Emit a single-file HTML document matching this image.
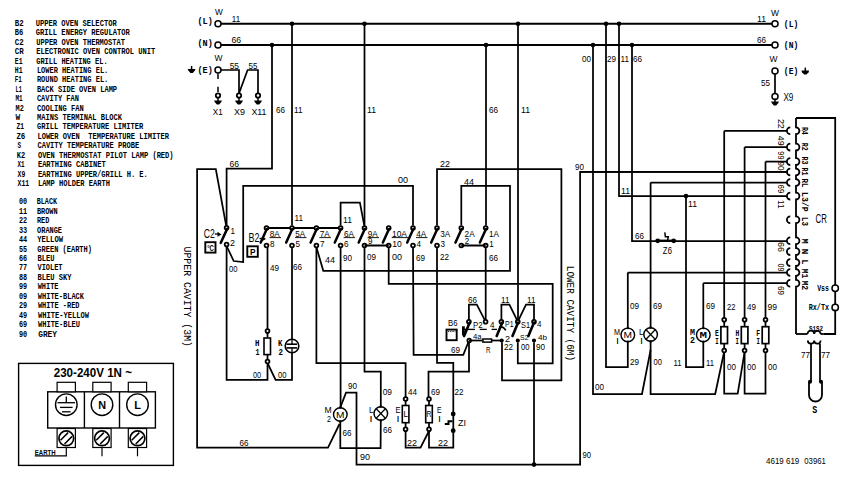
<!DOCTYPE html>
<html><head><meta charset="utf-8"><style>
html,body{margin:0;padding:0;background:#fff;}
svg{display:block;}
</style></head><body>
<svg width="855" height="504" viewBox="0 0 855 504">
<rect width="855" height="504" fill="#fff"/>
<text style="white-space:pre" x="14.8" y="25.85" font-family="Liberation Mono" font-size="9.85" font-weight="bold" textLength="9" lengthAdjust="spacingAndGlyphs">B2</text>
<text style="white-space:pre" x="35.7" y="25.85" font-family="Liberation Mono" font-size="9.85" font-weight="bold" textLength="81" lengthAdjust="spacingAndGlyphs">UPPER OVEN SELECTOR</text>
<text style="white-space:pre" x="14.8" y="35.27" font-family="Liberation Mono" font-size="9.85" font-weight="bold" textLength="8.5" lengthAdjust="spacingAndGlyphs">B6</text>
<text style="white-space:pre" x="35.7" y="35.27" font-family="Liberation Mono" font-size="9.85" font-weight="bold" textLength="94.1" lengthAdjust="spacingAndGlyphs">GRILL ENERGY REGULATOR</text>
<text style="white-space:pre" x="14.8" y="44.69" font-family="Liberation Mono" font-size="9.85" font-weight="bold" textLength="9" lengthAdjust="spacingAndGlyphs">C2</text>
<text style="white-space:pre" x="36.2" y="44.69" font-family="Liberation Mono" font-size="9.85" font-weight="bold" textLength="88.8" lengthAdjust="spacingAndGlyphs">UPPER OVEN THERMOSTAT</text>
<text style="white-space:pre" x="14.8" y="54.11" font-family="Liberation Mono" font-size="9.85" font-weight="bold" textLength="9" lengthAdjust="spacingAndGlyphs">CR</text>
<text style="white-space:pre" x="36.2" y="54.11" font-family="Liberation Mono" font-size="9.85" font-weight="bold" textLength="119" lengthAdjust="spacingAndGlyphs">ELECTRONIC OVEN CONTROL UNIT</text>
<text style="white-space:pre" x="14.8" y="63.53" font-family="Liberation Mono" font-size="9.85" font-weight="bold" textLength="7.8" lengthAdjust="spacingAndGlyphs">E1</text>
<text style="white-space:pre" x="36.2" y="63.53" font-family="Liberation Mono" font-size="9.85" font-weight="bold" textLength="71.4" lengthAdjust="spacingAndGlyphs">GRILL HEATING EL.</text>
<text style="white-space:pre" x="14.8" y="72.95" font-family="Liberation Mono" font-size="9.85" font-weight="bold" textLength="7.8" lengthAdjust="spacingAndGlyphs">H1</text>
<text style="white-space:pre" x="36.9" y="72.95" font-family="Liberation Mono" font-size="9.85" font-weight="bold" textLength="71.4" lengthAdjust="spacingAndGlyphs">LOWER HEATING EL.</text>
<text style="white-space:pre" x="14.8" y="82.37" font-family="Liberation Mono" font-size="9.85" font-weight="bold" textLength="7.1" lengthAdjust="spacingAndGlyphs">F1</text>
<text style="white-space:pre" x="36.9" y="82.37" font-family="Liberation Mono" font-size="9.85" font-weight="bold" textLength="71.4" lengthAdjust="spacingAndGlyphs">ROUND HEATING EL.</text>
<text style="white-space:pre" x="15.5" y="91.79" font-family="Liberation Mono" font-size="9.85" font-weight="bold" textLength="6.4" lengthAdjust="spacingAndGlyphs">L1</text>
<text style="white-space:pre" x="36.9" y="91.79" font-family="Liberation Mono" font-size="9.85" font-weight="bold" textLength="80.2" lengthAdjust="spacingAndGlyphs">BACK SIDE OVEN LAMP</text>
<text style="white-space:pre" x="15.5" y="101.21" font-family="Liberation Mono" font-size="9.85" font-weight="bold" textLength="7.1" lengthAdjust="spacingAndGlyphs">M1</text>
<text style="white-space:pre" x="36.9" y="101.21" font-family="Liberation Mono" font-size="9.85" font-weight="bold" textLength="42.1" lengthAdjust="spacingAndGlyphs">CAVITY FAN</text>
<text style="white-space:pre" x="15.5" y="110.63" font-family="Liberation Mono" font-size="9.85" font-weight="bold" textLength="8.3" lengthAdjust="spacingAndGlyphs">M2</text>
<text style="white-space:pre" x="36.9" y="110.63" font-family="Liberation Mono" font-size="9.85" font-weight="bold" textLength="46.9" lengthAdjust="spacingAndGlyphs">COOLING FAN</text>
<text style="white-space:pre" x="15.5" y="120.05" font-family="Liberation Mono" font-size="9.85" font-weight="bold" textLength="4.7" lengthAdjust="spacingAndGlyphs">W</text>
<text style="white-space:pre" x="36.9" y="120.05" font-family="Liberation Mono" font-size="9.85" font-weight="bold" textLength="85" lengthAdjust="spacingAndGlyphs">MAINS TERMINAL BLOCK</text>
<text style="white-space:pre" x="16.4" y="129.47" font-family="Liberation Mono" font-size="9.85" font-weight="bold" textLength="7.5" lengthAdjust="spacingAndGlyphs">Z1</text>
<text style="white-space:pre" x="37" y="129.47" font-family="Liberation Mono" font-size="9.85" font-weight="bold" textLength="106.2" lengthAdjust="spacingAndGlyphs">GRILL TEMPERATURE LIMITER</text>
<text style="white-space:pre" x="16.4" y="138.89" font-family="Liberation Mono" font-size="9.85" font-weight="bold" textLength="8.9" lengthAdjust="spacingAndGlyphs">Z6</text>
<text style="white-space:pre" x="37.4" y="138.89" font-family="Liberation Mono" font-size="9.85" font-weight="bold" textLength="131.5" lengthAdjust="spacingAndGlyphs">LOWER OVEN  TEMPERATURE LIMITER</text>
<text style="white-space:pre" x="17.5" y="148.31" font-family="Liberation Mono" font-size="9.85" font-weight="bold" textLength="3.6" lengthAdjust="spacingAndGlyphs">S</text>
<text style="white-space:pre" x="37.4" y="148.31" font-family="Liberation Mono" font-size="9.85" font-weight="bold" textLength="101.8" lengthAdjust="spacingAndGlyphs">CAVITY TEMPERATURE PROBE</text>
<text style="white-space:pre" x="16.8" y="157.73" font-family="Liberation Mono" font-size="9.85" font-weight="bold" textLength="8.5" lengthAdjust="spacingAndGlyphs">K2</text>
<text style="white-space:pre" x="37.9" y="157.73" font-family="Liberation Mono" font-size="9.85" font-weight="bold" textLength="135.7" lengthAdjust="spacingAndGlyphs">OVEN THERMOSTAT PILOT LAMP (RED)</text>
<text style="white-space:pre" x="17.5" y="167.15" font-family="Liberation Mono" font-size="9.85" font-weight="bold" textLength="7.1" lengthAdjust="spacingAndGlyphs">X1</text>
<text style="white-space:pre" x="37.9" y="167.15" font-family="Liberation Mono" font-size="9.85" font-weight="bold" textLength="67.8" lengthAdjust="spacingAndGlyphs">EARTHING CABINET</text>
<text style="white-space:pre" x="17.5" y="176.57" font-family="Liberation Mono" font-size="9.85" font-weight="bold" textLength="7.8" lengthAdjust="spacingAndGlyphs">X9</text>
<text style="white-space:pre" x="37.9" y="176.57" font-family="Liberation Mono" font-size="9.85" font-weight="bold" textLength="109.9" lengthAdjust="spacingAndGlyphs">EARTHING UPPER/GRILL H. E.</text>
<text style="white-space:pre" x="17.5" y="185.99" font-family="Liberation Mono" font-size="9.85" font-weight="bold" textLength="11.7" lengthAdjust="spacingAndGlyphs">X11</text>
<text style="white-space:pre" x="37.9" y="185.99" font-family="Liberation Mono" font-size="9.85" font-weight="bold" textLength="72.1" lengthAdjust="spacingAndGlyphs">LAMP HOLDER EARTH</text>
<text style="white-space:pre" x="19" y="204.25" font-family="Liberation Mono" font-size="9.55" font-weight="bold" textLength="8.2" lengthAdjust="spacingAndGlyphs">00</text>
<text style="white-space:pre" x="36.8" y="204.25" font-family="Liberation Mono" font-size="9.55" font-weight="bold" textLength="20.2" lengthAdjust="spacingAndGlyphs">BLACK</text>
<text style="white-space:pre" x="19" y="213.7" font-family="Liberation Mono" font-size="9.55" font-weight="bold" textLength="8.2" lengthAdjust="spacingAndGlyphs">11</text>
<text style="white-space:pre" x="36.9" y="213.7" font-family="Liberation Mono" font-size="9.55" font-weight="bold" textLength="20.7" lengthAdjust="spacingAndGlyphs">BROWN</text>
<text style="white-space:pre" x="19" y="223.15" font-family="Liberation Mono" font-size="9.55" font-weight="bold" textLength="8.2" lengthAdjust="spacingAndGlyphs">22</text>
<text style="white-space:pre" x="37" y="223.15" font-family="Liberation Mono" font-size="9.55" font-weight="bold" textLength="12.3" lengthAdjust="spacingAndGlyphs">RED</text>
<text style="white-space:pre" x="19" y="232.6" font-family="Liberation Mono" font-size="9.55" font-weight="bold" textLength="8.2" lengthAdjust="spacingAndGlyphs">33</text>
<text style="white-space:pre" x="37.1" y="232.6" font-family="Liberation Mono" font-size="9.55" font-weight="bold" textLength="24.9" lengthAdjust="spacingAndGlyphs">ORANGE</text>
<text style="white-space:pre" x="19" y="242.05" font-family="Liberation Mono" font-size="9.55" font-weight="bold" textLength="8.2" lengthAdjust="spacingAndGlyphs">44</text>
<text style="white-space:pre" x="37.2" y="242.05" font-family="Liberation Mono" font-size="9.55" font-weight="bold" textLength="25.8" lengthAdjust="spacingAndGlyphs">YELLOW</text>
<text style="white-space:pre" x="19" y="251.5" font-family="Liberation Mono" font-size="9.55" font-weight="bold" textLength="8.2" lengthAdjust="spacingAndGlyphs">55</text>
<text style="white-space:pre" x="37.3" y="251.5" font-family="Liberation Mono" font-size="9.55" font-weight="bold" textLength="54.7" lengthAdjust="spacingAndGlyphs">GREEN (EARTH)</text>
<text style="white-space:pre" x="19" y="260.95" font-family="Liberation Mono" font-size="9.55" font-weight="bold" textLength="8.2" lengthAdjust="spacingAndGlyphs">66</text>
<text style="white-space:pre" x="37.4" y="260.95" font-family="Liberation Mono" font-size="9.55" font-weight="bold" textLength="17.1" lengthAdjust="spacingAndGlyphs">BLEU</text>
<text style="white-space:pre" x="19" y="270.4" font-family="Liberation Mono" font-size="9.55" font-weight="bold" textLength="8.2" lengthAdjust="spacingAndGlyphs">77</text>
<text style="white-space:pre" x="37.5" y="270.4" font-family="Liberation Mono" font-size="9.55" font-weight="bold" textLength="25" lengthAdjust="spacingAndGlyphs">VIOLET</text>
<text style="white-space:pre" x="19" y="279.85" font-family="Liberation Mono" font-size="9.55" font-weight="bold" textLength="8.2" lengthAdjust="spacingAndGlyphs">88</text>
<text style="white-space:pre" x="37.6" y="279.85" font-family="Liberation Mono" font-size="9.55" font-weight="bold" textLength="33.9" lengthAdjust="spacingAndGlyphs">BLEU SKY</text>
<text style="white-space:pre" x="19" y="289.3" font-family="Liberation Mono" font-size="9.55" font-weight="bold" textLength="8.2" lengthAdjust="spacingAndGlyphs">99</text>
<text style="white-space:pre" x="37.7" y="289.3" font-family="Liberation Mono" font-size="9.55" font-weight="bold" textLength="20.8" lengthAdjust="spacingAndGlyphs">WHITE</text>
<text style="white-space:pre" x="19" y="298.75" font-family="Liberation Mono" font-size="9.55" font-weight="bold" textLength="8.2" lengthAdjust="spacingAndGlyphs">09</text>
<text style="white-space:pre" x="37.8" y="298.75" font-family="Liberation Mono" font-size="9.55" font-weight="bold" textLength="46.2" lengthAdjust="spacingAndGlyphs">WHITE-BLACK</text>
<text style="white-space:pre" x="19" y="308.2" font-family="Liberation Mono" font-size="9.55" font-weight="bold" textLength="8.2" lengthAdjust="spacingAndGlyphs">29</text>
<text style="white-space:pre" x="37.9" y="308.2" font-family="Liberation Mono" font-size="9.55" font-weight="bold" textLength="41.6" lengthAdjust="spacingAndGlyphs">WHITE -RED</text>
<text style="white-space:pre" x="19" y="317.65" font-family="Liberation Mono" font-size="9.55" font-weight="bold" textLength="8.2" lengthAdjust="spacingAndGlyphs">49</text>
<text style="white-space:pre" x="38" y="317.65" font-family="Liberation Mono" font-size="9.55" font-weight="bold" textLength="51" lengthAdjust="spacingAndGlyphs">WHITE-YELLOW</text>
<text style="white-space:pre" x="19" y="327.1" font-family="Liberation Mono" font-size="9.55" font-weight="bold" textLength="8.2" lengthAdjust="spacingAndGlyphs">69</text>
<text style="white-space:pre" x="38.1" y="327.1" font-family="Liberation Mono" font-size="9.55" font-weight="bold" textLength="41.9" lengthAdjust="spacingAndGlyphs">WHITE-BLEU</text>
<text style="white-space:pre" x="19" y="336.55" font-family="Liberation Mono" font-size="9.55" font-weight="bold" textLength="8.2" lengthAdjust="spacingAndGlyphs">90</text>
<text style="white-space:pre" x="38.2" y="336.55" font-family="Liberation Mono" font-size="9.55" font-weight="bold" textLength="18.8" lengthAdjust="spacingAndGlyphs">GREY</text>
<rect x="18.6" y="363.4" width="154.8" height="102" fill="#fff" stroke="#000" stroke-width="1.4"/>
<text style="white-space:pre" x="53.7" y="377.1" font-family="Liberation Sans" font-size="12.78" font-weight="bold" textLength="78.3" lengthAdjust="spacingAndGlyphs">230-240V 1N ~</text>
<rect x="47.7" y="391.8" width="107.7" height="36.2" fill="#fff" stroke="#000" stroke-width="1.4"/>
<polyline points="84.4,391.8 84.4,428" fill="none" stroke="#000" stroke-width="1.4" stroke-linejoin="miter" stroke-linecap="butt"/>
<polyline points="119.5,391.8 119.5,428" fill="none" stroke="#000" stroke-width="1.4" stroke-linejoin="miter" stroke-linecap="butt"/>
<rect x="57.1" y="382.3" width="18.3" height="9.5" fill="#fff" stroke="#000" stroke-width="1.2"/>
<circle cx="66.3" cy="404.7" r="10.8" fill="#fff" stroke="#000" stroke-width="1.4"/>
<rect x="57.1" y="428.5" width="18.3" height="19" fill="#fff" stroke="#000" stroke-width="1.2"/>
<circle cx="66.3" cy="438.3" r="7.4" fill="#fff" stroke="#000" stroke-width="1.7"/>
<polyline points="60.5,440.2 68.1,432.6" fill="none" stroke="#000" stroke-width="1.5" stroke-linejoin="miter" stroke-linecap="butt"/>
<polyline points="64.5,444 72.1,436.4" fill="none" stroke="#000" stroke-width="1.5" stroke-linejoin="miter" stroke-linecap="butt"/>
<rect x="92.8" y="382.3" width="18.3" height="9.5" fill="#fff" stroke="#000" stroke-width="1.2"/>
<circle cx="102" cy="404.7" r="10.8" fill="#fff" stroke="#000" stroke-width="1.4"/>
<rect x="92.8" y="428.5" width="18.3" height="19" fill="#fff" stroke="#000" stroke-width="1.2"/>
<circle cx="102" cy="438.3" r="7.4" fill="#fff" stroke="#000" stroke-width="1.7"/>
<polyline points="96.2,440.2 103.8,432.6" fill="none" stroke="#000" stroke-width="1.5" stroke-linejoin="miter" stroke-linecap="butt"/>
<polyline points="100.2,444 107.8,436.4" fill="none" stroke="#000" stroke-width="1.5" stroke-linejoin="miter" stroke-linecap="butt"/>
<rect x="128.3" y="382.3" width="18.3" height="9.5" fill="#fff" stroke="#000" stroke-width="1.2"/>
<circle cx="137.5" cy="404.7" r="10.8" fill="#fff" stroke="#000" stroke-width="1.4"/>
<rect x="128.3" y="428.5" width="18.3" height="19" fill="#fff" stroke="#000" stroke-width="1.2"/>
<circle cx="137.5" cy="438.3" r="7.4" fill="#fff" stroke="#000" stroke-width="1.7"/>
<polyline points="131.7,440.2 139.3,432.6" fill="none" stroke="#000" stroke-width="1.5" stroke-linejoin="miter" stroke-linecap="butt"/>
<polyline points="135.7,444 143.3,436.4" fill="none" stroke="#000" stroke-width="1.5" stroke-linejoin="miter" stroke-linecap="butt"/>
<polyline points="66.3,396.5 66.3,402.7" fill="none" stroke="#000" stroke-width="1.3" stroke-linejoin="miter" stroke-linecap="butt"/>
<polyline points="57.5,402.7 75,402.7" fill="none" stroke="#000" stroke-width="1.3" stroke-linejoin="miter" stroke-linecap="butt"/>
<polyline points="60,407.4 72.6,407.4" fill="none" stroke="#000" stroke-width="1.3" stroke-linejoin="miter" stroke-linecap="butt"/>
<polyline points="62,411.8 70.6,411.8" fill="none" stroke="#000" stroke-width="1.3" stroke-linejoin="miter" stroke-linecap="butt"/>
<text style="white-space:pre" x="98.2" y="408.7" font-family="Liberation Sans" font-size="11.11" font-weight="bold" textLength="7.8" lengthAdjust="spacingAndGlyphs">N</text>
<text style="white-space:pre" x="134.3" y="408.7" font-family="Liberation Sans" font-size="11.11" font-weight="bold" textLength="6.7" lengthAdjust="spacingAndGlyphs">L</text>
<polyline points="102,447.5 102,456.3" fill="none" stroke="#000" stroke-width="1.2" stroke-linejoin="miter" stroke-linecap="butt"/>
<polyline points="137.5,447.5 137.5,456.3" fill="none" stroke="#000" stroke-width="1.2" stroke-linejoin="miter" stroke-linecap="butt"/>
<polyline points="66.3,447.5 66.3,455.8 34.8,455.8" fill="none" stroke="#000" stroke-width="1.2" stroke-linejoin="miter" stroke-linecap="butt"/>
<text style="white-space:pre" x="34.8" y="454.9" font-family="Liberation Sans" font-size="7.22" font-weight="bold" textLength="20.7" lengthAdjust="spacingAndGlyphs">EARTH</text>
<text transform="translate(183.95,246.5) rotate(90)" x="0" y="0" font-family="Liberation Mono" font-size="11.36" font-weight="normal" textLength="100.5" lengthAdjust="spacingAndGlyphs">UPPER CAVITY (3M)</text>
<text transform="translate(567.25,265.8) rotate(90)" x="0" y="0" font-family="Liberation Mono" font-size="11.36" font-weight="normal" textLength="95.2" lengthAdjust="spacingAndGlyphs">LOWER CAVITY (6M)</text>
<text style="white-space:pre" x="766.1" y="464.4" font-family="Liberation Sans" font-size="8.61" font-weight="normal" textLength="33.2" lengthAdjust="spacingAndGlyphs">4619 619</text>
<text style="white-space:pre" x="804.3" y="464.4" font-family="Liberation Sans" font-size="8.61" font-weight="normal" textLength="21.5" lengthAdjust="spacingAndGlyphs">03961</text>
<polyline points="221,23.7 772,23.7" fill="none" stroke="#000" stroke-width="2.0" stroke-linejoin="miter" stroke-linecap="butt"/>
<polyline points="221,45 772,45" fill="none" stroke="#000" stroke-width="2.0" stroke-linejoin="miter" stroke-linecap="butt"/>
<circle cx="218" cy="23.7" r="3" fill="#fff" stroke="#000" stroke-width="1.5"/>
<circle cx="218" cy="45" r="3" fill="#fff" stroke="#000" stroke-width="1.5"/>
<circle cx="218" cy="70" r="3" fill="#fff" stroke="#000" stroke-width="1.5"/>
<circle cx="775" cy="23.7" r="3" fill="#fff" stroke="#000" stroke-width="1.5"/>
<circle cx="775" cy="45" r="3" fill="#fff" stroke="#000" stroke-width="1.5"/>
<circle cx="775" cy="71" r="3" fill="#fff" stroke="#000" stroke-width="1.5"/>
<circle cx="775" cy="96.4" r="3" fill="#fff" stroke="#000" stroke-width="1.5"/>
<text style="white-space:pre" x="215.1" y="14.6" font-family="Liberation Sans" font-size="8.89" font-weight="normal" textLength="7.8" lengthAdjust="spacingAndGlyphs">W</text>
<text style="white-space:pre" x="214.5" y="61" font-family="Liberation Sans" font-size="8.89" font-weight="normal" textLength="8" lengthAdjust="spacingAndGlyphs">W</text>
<text style="white-space:pre" x="771" y="15.7" font-family="Liberation Sans" font-size="8.89" font-weight="normal" textLength="8" lengthAdjust="spacingAndGlyphs">W</text>
<text style="white-space:pre" x="769.5" y="61.8" font-family="Liberation Sans" font-size="8.89" font-weight="normal" textLength="8" lengthAdjust="spacingAndGlyphs">W</text>
<text style="white-space:pre" x="197.5" y="24.35" font-family="Liberation Mono" font-size="9.55" font-weight="bold" textLength="15.3" lengthAdjust="spacingAndGlyphs">(L)</text>
<text style="white-space:pre" x="197.5" y="45.65" font-family="Liberation Mono" font-size="9.55" font-weight="bold" textLength="15.3" lengthAdjust="spacingAndGlyphs">(N)</text>
<text style="white-space:pre" x="197.5" y="73.15" font-family="Liberation Mono" font-size="9.55" font-weight="bold" textLength="15.3" lengthAdjust="spacingAndGlyphs">(E)</text>
<text style="white-space:pre" x="783.8" y="27.15" font-family="Liberation Mono" font-size="9.55" font-weight="bold" textLength="14.5" lengthAdjust="spacingAndGlyphs">(L)</text>
<text style="white-space:pre" x="783.8" y="48.15" font-family="Liberation Mono" font-size="9.55" font-weight="bold" textLength="14.5" lengthAdjust="spacingAndGlyphs">(N)</text>
<text style="white-space:pre" x="783.8" y="73.65" font-family="Liberation Mono" font-size="9.55" font-weight="bold" textLength="14.5" lengthAdjust="spacingAndGlyphs">(E)</text>
<path d="M187.7,69 L195.5,69 L194.9,70.6 L192.8,73 L190.4,73 L188.3,70.6 Z" fill="#000"/>
<polyline points="191.6,66 191.6,69.5" fill="none" stroke="#000" stroke-width="1.5" stroke-linejoin="miter" stroke-linecap="butt"/>
<path d="M801.4,70.6 L809.2,70.6 L808.6,72.2 L806.5,74.6 L804.1,74.6 L802,72.2 Z" fill="#000"/>
<polyline points="805.3,67.6 805.3,71.1" fill="none" stroke="#000" stroke-width="1.5" stroke-linejoin="miter" stroke-linecap="butt"/>
<text style="white-space:pre" x="231.8" y="21.5" font-family="Liberation Sans" font-size="9.44" font-weight="normal" textLength="8.3" lengthAdjust="spacingAndGlyphs">11</text>
<text style="white-space:pre" x="231.4" y="43" font-family="Liberation Sans" font-size="9.44" font-weight="normal" textLength="9.6" lengthAdjust="spacingAndGlyphs">66</text>
<text style="white-space:pre" x="757" y="22.4" font-family="Liberation Sans" font-size="9.44" font-weight="normal" textLength="9" lengthAdjust="spacingAndGlyphs">11</text>
<text style="white-space:pre" x="757" y="43.4" font-family="Liberation Sans" font-size="9.44" font-weight="normal" textLength="9" lengthAdjust="spacingAndGlyphs">66</text>
<polyline points="221,70 239,70 239,93.4" fill="none" stroke="#000" stroke-width="1.7" stroke-linejoin="miter" stroke-linecap="butt"/>
<polyline points="239,93.4 247.6,70 258,70 258,93.4" fill="none" stroke="#000" stroke-width="1.7" stroke-linejoin="miter" stroke-linecap="butt"/>
<polyline points="218,73.5 218,79" fill="none" stroke="#000" stroke-width="1.5" stroke-linejoin="miter" stroke-linecap="butt"/>
<polyline points="218,86.8 218,92" fill="none" stroke="#000" stroke-width="1.5" stroke-linejoin="miter" stroke-linecap="butt"/>
<circle cx="218" cy="95.5" r="2.2" fill="#fff" stroke="#000" stroke-width="1.8"/>
<path d="M214.1,100.5 L221.9,100.5 L221.3,102.1 L219.2,104.5 L216.8,104.5 L214.7,102.1 Z" fill="#000"/>
<polyline points="218,97.5 218,101" fill="none" stroke="#000" stroke-width="1.5" stroke-linejoin="miter" stroke-linecap="butt"/>
<circle cx="239" cy="95.5" r="2.2" fill="#fff" stroke="#000" stroke-width="1.8"/>
<path d="M235.1,100.5 L242.9,100.5 L242.3,102.1 L240.2,104.5 L237.8,104.5 L235.7,102.1 Z" fill="#000"/>
<polyline points="239,97.5 239,101" fill="none" stroke="#000" stroke-width="1.5" stroke-linejoin="miter" stroke-linecap="butt"/>
<circle cx="258" cy="95.5" r="2.2" fill="#fff" stroke="#000" stroke-width="1.8"/>
<path d="M254.1,100.5 L261.9,100.5 L261.3,102.1 L259.2,104.5 L256.8,104.5 L254.7,102.1 Z" fill="#000"/>
<polyline points="258,97.5 258,101" fill="none" stroke="#000" stroke-width="1.5" stroke-linejoin="miter" stroke-linecap="butt"/>
<text style="white-space:pre" x="229.7" y="68.7" font-family="Liberation Sans" font-size="9.44" font-weight="normal" textLength="9.3" lengthAdjust="spacingAndGlyphs">55</text>
<text style="white-space:pre" x="248.6" y="68.7" font-family="Liberation Sans" font-size="9.44" font-weight="normal" textLength="8.9" lengthAdjust="spacingAndGlyphs">55</text>
<text style="white-space:pre" x="212.8" y="114.8" font-family="Liberation Sans" font-size="9.72" font-weight="normal" textLength="9.9" lengthAdjust="spacingAndGlyphs">X1</text>
<text style="white-space:pre" x="234" y="114.8" font-family="Liberation Sans" font-size="9.72" font-weight="normal" textLength="11" lengthAdjust="spacingAndGlyphs">X9</text>
<text style="white-space:pre" x="251.5" y="114.8" font-family="Liberation Sans" font-size="9.72" font-weight="normal" textLength="15" lengthAdjust="spacingAndGlyphs">X11</text>
<polyline points="775,74 775,93.4" fill="none" stroke="#000" stroke-width="1.7" stroke-linejoin="miter" stroke-linecap="butt"/>
<path d="M771.1,101.5 L778.9,101.5 L778.3,103.1 L776.2,105.5 L773.8,105.5 L771.7,103.1 Z" fill="#000"/>
<polyline points="775,98.5 775,102" fill="none" stroke="#000" stroke-width="1.5" stroke-linejoin="miter" stroke-linecap="butt"/>
<text style="white-space:pre" x="761" y="85.9" font-family="Liberation Sans" font-size="9.44" font-weight="normal" textLength="9" lengthAdjust="spacingAndGlyphs">55</text>
<text style="white-space:pre" x="783.4" y="101.2" font-family="Liberation Sans" font-size="10" font-weight="normal" textLength="9.9" lengthAdjust="spacingAndGlyphs">X9</text>
<circle cx="292" cy="23.7" r="2.3" fill="#000"/>
<circle cx="364.5" cy="23.7" r="2.3" fill="#000"/>
<circle cx="518" cy="23.7" r="2.3" fill="#000"/>
<circle cx="606" cy="23.7" r="2.3" fill="#000"/>
<circle cx="619" cy="23.7" r="2.3" fill="#000"/>
<circle cx="272" cy="45" r="2.3" fill="#000"/>
<circle cx="486" cy="45" r="2.3" fill="#000"/>
<circle cx="593" cy="45" r="2.3" fill="#000"/>
<circle cx="632" cy="45" r="2.3" fill="#000"/>
<polyline points="272,45 272,168.5 226.6,168.5 226.6,225.6" fill="none" stroke="#000" stroke-width="1.75" stroke-linejoin="miter" stroke-linecap="butt"/>
<text style="white-space:pre" x="276" y="112.8" font-family="Liberation Sans" font-size="9.44" font-weight="normal" textLength="9" lengthAdjust="spacingAndGlyphs">66</text>
<text style="white-space:pre" x="229.5" y="167.2" font-family="Liberation Sans" font-size="9.44" font-weight="normal" textLength="9.5" lengthAdjust="spacingAndGlyphs">66</text>
<polyline points="339.5,424 328,447.6 197.1,447.6 197.1,169 215.8,169 226.2,225.8" fill="none" stroke="#000" stroke-width="1.75" stroke-linejoin="miter" stroke-linecap="butt"/>
<text style="white-space:pre" x="239.5" y="446.4" font-family="Liberation Sans" font-size="9.44" font-weight="normal" textLength="9" lengthAdjust="spacingAndGlyphs">66</text>
<circle cx="226.6" cy="227.8" r="1.9" fill="#fff" stroke="#000" stroke-width="1.8"/>
<circle cx="226.6" cy="244.6" r="1.9" fill="#fff" stroke="#000" stroke-width="1.8"/>
<polyline points="220.8,242.8 227.2,228.8" fill="none" stroke="#000" stroke-width="2.6" stroke-linejoin="miter" stroke-linecap="round"/>
<text style="white-space:pre" x="230.5" y="234.4" font-family="Liberation Sans" font-size="9.44" font-weight="normal" textLength="4.5" lengthAdjust="spacingAndGlyphs">1</text>
<text style="white-space:pre" x="230" y="246.4" font-family="Liberation Sans" font-size="9.44" font-weight="normal" textLength="5" lengthAdjust="spacingAndGlyphs">2</text>
<text style="white-space:pre" x="203.8" y="237.5" font-family="Liberation Sans" font-size="11.94" font-weight="normal" textLength="11" lengthAdjust="spacingAndGlyphs">C2</text>
<polyline points="214.8,234 219,234" fill="none" stroke="#000" stroke-width="1.3" stroke-linejoin="miter" stroke-linecap="butt"/>
<path d="M217.5,231.8 L221.5,234.5 L217.5,236.8 Z" fill="#000"/>
<rect x="205.3" y="242.2" width="10.2" height="10.4" fill="#fff" stroke="#000" stroke-width="1.9"/>
<text style="white-space:pre" x="207.2" y="250.7" font-family="Liberation Sans" font-size="8.61" font-weight="bold" textLength="6.8" lengthAdjust="spacingAndGlyphs">°C</text>
<polyline points="226.6,246 233.7,261 243.2,262 243.2,185.8 413,185.8 413,225.6" fill="none" stroke="#000" stroke-width="1.75" stroke-linejoin="miter" stroke-linecap="butt"/>
<text style="white-space:pre" x="398" y="183.4" font-family="Liberation Sans" font-size="9.44" font-weight="normal" textLength="10" lengthAdjust="spacingAndGlyphs">00</text>
<polyline points="226.6,246 226.6,379.8 267.5,379.8 267.5,363" fill="none" stroke="#000" stroke-width="1.75" stroke-linejoin="miter" stroke-linecap="butt"/>
<text style="white-space:pre" x="229" y="272.1" font-family="Liberation Sans" font-size="9.44" font-weight="normal" textLength="8.5" lengthAdjust="spacingAndGlyphs">00</text>
<polyline points="267.5,363 275.6,379.8 292,379.8 292,353" fill="none" stroke="#000" stroke-width="1.75" stroke-linejoin="miter" stroke-linecap="butt"/>
<text style="white-space:pre" x="253" y="377.9" font-family="Liberation Sans" font-size="9.44" font-weight="normal" textLength="8" lengthAdjust="spacingAndGlyphs">00</text>
<text style="white-space:pre" x="278" y="377.9" font-family="Liberation Sans" font-size="9.44" font-weight="normal" textLength="8.5" lengthAdjust="spacingAndGlyphs">00</text>
<polyline points="292,23.7 292,225.6" fill="none" stroke="#000" stroke-width="1.75" stroke-linejoin="miter" stroke-linecap="butt"/>
<text style="white-space:pre" x="294" y="113.1" font-family="Liberation Sans" font-size="9.44" font-weight="normal" textLength="8.5" lengthAdjust="spacingAndGlyphs">11</text>
<text style="white-space:pre" x="294.5" y="221.4" font-family="Liberation Sans" font-size="9.44" font-weight="normal" textLength="8.5" lengthAdjust="spacingAndGlyphs">11</text>
<polyline points="364.5,23.7 364.5,225.6" fill="none" stroke="#000" stroke-width="1.75" stroke-linejoin="miter" stroke-linecap="butt"/>
<text style="white-space:pre" x="367" y="112.6" font-family="Liberation Sans" font-size="9.44" font-weight="normal" textLength="9" lengthAdjust="spacingAndGlyphs">11</text>
<polyline points="486,45 486,225.6" fill="none" stroke="#000" stroke-width="1.75" stroke-linejoin="miter" stroke-linecap="butt"/>
<text style="white-space:pre" x="489" y="113" font-family="Liberation Sans" font-size="9.44" font-weight="normal" textLength="9" lengthAdjust="spacingAndGlyphs">66</text>
<polyline points="518,23.7 518,319.8" fill="none" stroke="#000" stroke-width="1.75" stroke-linejoin="miter" stroke-linecap="butt"/>
<text style="white-space:pre" x="521" y="113.4" font-family="Liberation Sans" font-size="9.44" font-weight="normal" textLength="9" lengthAdjust="spacingAndGlyphs">11</text>
<polyline points="593,45 593,394 642,394 650.6,349.8" fill="none" stroke="#000" stroke-width="1.75" stroke-linejoin="miter" stroke-linecap="butt"/>
<text style="white-space:pre" x="582" y="61.6" font-family="Liberation Sans" font-size="9.44" font-weight="normal" textLength="9" lengthAdjust="spacingAndGlyphs">00</text>
<text style="white-space:pre" x="620.5" y="61.6" font-family="Liberation Sans" font-size="9.44" font-weight="normal" textLength="8.5" lengthAdjust="spacingAndGlyphs">11</text>
<polyline points="606,23.7 606,367 627.8,367 627.8,342.5" fill="none" stroke="#000" stroke-width="1.75" stroke-linejoin="miter" stroke-linecap="butt"/>
<text style="white-space:pre" x="607" y="61.6" font-family="Liberation Sans" font-size="9.44" font-weight="normal" textLength="9" lengthAdjust="spacingAndGlyphs">29</text>
<polyline points="619,23.7 619,196.1 786.9,196.1" fill="none" stroke="#000" stroke-width="1.75" stroke-linejoin="miter" stroke-linecap="butt"/>
<text style="white-space:pre" x="621" y="194.4" font-family="Liberation Sans" font-size="9.44" font-weight="normal" textLength="9" lengthAdjust="spacingAndGlyphs">11</text>
<polyline points="632,45 632,241 786.9,241" fill="none" stroke="#000" stroke-width="1.75" stroke-linejoin="miter" stroke-linecap="butt"/>
<text style="white-space:pre" x="633" y="61.6" font-family="Liberation Sans" font-size="9.44" font-weight="normal" textLength="9" lengthAdjust="spacingAndGlyphs">66</text>
<circle cx="686" cy="196.1" r="2.3" fill="#000"/>
<polyline points="686,196.1 686,367 703.3,367 703.3,342.5" fill="none" stroke="#000" stroke-width="1.75" stroke-linejoin="miter" stroke-linecap="butt"/>
<text style="white-space:pre" x="688" y="207.1" font-family="Liberation Sans" font-size="9.44" font-weight="normal" textLength="9" lengthAdjust="spacingAndGlyphs">11</text>
<text style="white-space:pre" x="673.5" y="366.1" font-family="Liberation Sans" font-size="9.44" font-weight="normal" textLength="8" lengthAdjust="spacingAndGlyphs">11</text>
<text style="white-space:pre" x="706" y="366.1" font-family="Liberation Sans" font-size="9.44" font-weight="normal" textLength="8" lengthAdjust="spacingAndGlyphs">11</text>
<text style="white-space:pre" x="635" y="239.4" font-family="Liberation Sans" font-size="9.44" font-weight="normal" textLength="9" lengthAdjust="spacingAndGlyphs">66</text>
<circle cx="657.7" cy="240.8" r="2.4" fill="#000"/>
<circle cx="673.7" cy="240.8" r="2.4" fill="#000"/>
<polyline points="657.7,240.8 673.7,240.8" fill="none" stroke="#000" stroke-width="2.4" stroke-linejoin="miter" stroke-linecap="butt"/>
<polyline points="664.8,232.3 665.4,236.8 668.3,236.8 667.6,240" fill="none" stroke="#000" stroke-width="1.5" stroke-linejoin="miter" stroke-linecap="butt"/>
<text style="white-space:pre" x="662.8" y="254.1" font-family="Liberation Mono" font-size="11.52" font-weight="normal" textLength="9.4" lengthAdjust="spacingAndGlyphs">Z6</text>
<polyline points="266.5,228 340.6,228" fill="none" stroke="#000" stroke-width="2.0" stroke-linejoin="miter" stroke-linecap="butt"/>
<circle cx="266.5" cy="228" r="1.9" fill="#fff" stroke="#000" stroke-width="1.8"/>
<circle cx="266.5" cy="245.5" r="1.9" fill="#fff" stroke="#000" stroke-width="1.8"/>
<polyline points="260.7,242.6 266.8,229" fill="none" stroke="#000" stroke-width="2.5" stroke-linejoin="miter" stroke-linecap="round"/>
<text style="white-space:pre" x="269.8" y="236.6" font-family="Liberation Sans" font-size="8.33" font-weight="normal" textLength="10" lengthAdjust="spacingAndGlyphs">8A</text>
<polyline points="269.5,237.6 281,237.6" fill="none" stroke="#000" stroke-width="0.9" stroke-linejoin="miter" stroke-linecap="butt"/>
<text style="white-space:pre" x="270" y="246.8" font-family="Liberation Sans" font-size="9.17" font-weight="normal" textLength="4.5" lengthAdjust="spacingAndGlyphs">8</text>
<circle cx="292" cy="228" r="1.9" fill="#fff" stroke="#000" stroke-width="1.8"/>
<circle cx="292" cy="245.5" r="1.9" fill="#fff" stroke="#000" stroke-width="1.8"/>
<polyline points="286.2,242.6 292.3,229" fill="none" stroke="#000" stroke-width="2.5" stroke-linejoin="miter" stroke-linecap="round"/>
<text style="white-space:pre" x="295.3" y="236.6" font-family="Liberation Sans" font-size="8.33" font-weight="normal" textLength="10" lengthAdjust="spacingAndGlyphs">5A</text>
<polyline points="295,237.6 306.5,237.6" fill="none" stroke="#000" stroke-width="0.9" stroke-linejoin="miter" stroke-linecap="butt"/>
<text style="white-space:pre" x="295.5" y="246.8" font-family="Liberation Sans" font-size="9.17" font-weight="normal" textLength="4.5" lengthAdjust="spacingAndGlyphs">5</text>
<circle cx="316.4" cy="228" r="1.9" fill="#fff" stroke="#000" stroke-width="1.8"/>
<circle cx="316.4" cy="245.5" r="1.9" fill="#fff" stroke="#000" stroke-width="1.8"/>
<polyline points="310.6,242.6 316.7,229" fill="none" stroke="#000" stroke-width="2.5" stroke-linejoin="miter" stroke-linecap="round"/>
<text style="white-space:pre" x="319.7" y="236.6" font-family="Liberation Sans" font-size="8.33" font-weight="normal" textLength="10" lengthAdjust="spacingAndGlyphs">7A</text>
<polyline points="319.4,237.6 330.9,237.6" fill="none" stroke="#000" stroke-width="0.9" stroke-linejoin="miter" stroke-linecap="butt"/>
<text style="white-space:pre" x="319.9" y="246.8" font-family="Liberation Sans" font-size="9.17" font-weight="normal" textLength="4.5" lengthAdjust="spacingAndGlyphs">7</text>
<circle cx="340.6" cy="228" r="1.9" fill="#fff" stroke="#000" stroke-width="1.8"/>
<circle cx="340.6" cy="245.5" r="1.9" fill="#fff" stroke="#000" stroke-width="1.8"/>
<polyline points="334.8,242.6 340.9,229" fill="none" stroke="#000" stroke-width="2.5" stroke-linejoin="miter" stroke-linecap="round"/>
<text style="white-space:pre" x="343.9" y="236.6" font-family="Liberation Sans" font-size="8.33" font-weight="normal" textLength="10" lengthAdjust="spacingAndGlyphs">6A</text>
<polyline points="343.6,237.6 355.1,237.6" fill="none" stroke="#000" stroke-width="0.9" stroke-linejoin="miter" stroke-linecap="butt"/>
<text style="white-space:pre" x="344.1" y="246.8" font-family="Liberation Sans" font-size="9.17" font-weight="normal" textLength="4.5" lengthAdjust="spacingAndGlyphs">6</text>
<circle cx="364.5" cy="228" r="1.9" fill="#fff" stroke="#000" stroke-width="1.8"/>
<circle cx="364.5" cy="245.5" r="1.9" fill="#fff" stroke="#000" stroke-width="1.8"/>
<polyline points="358.7,242.6 364.8,229" fill="none" stroke="#000" stroke-width="2.5" stroke-linejoin="miter" stroke-linecap="round"/>
<text style="white-space:pre" x="367.8" y="236.6" font-family="Liberation Sans" font-size="8.33" font-weight="normal" textLength="10" lengthAdjust="spacingAndGlyphs">9A</text>
<polyline points="367.5,237.6 379,237.6" fill="none" stroke="#000" stroke-width="0.9" stroke-linejoin="miter" stroke-linecap="butt"/>
<text style="white-space:pre" x="368" y="244.1" font-family="Liberation Sans" font-size="9.17" font-weight="normal" textLength="4.5" lengthAdjust="spacingAndGlyphs">9</text>
<circle cx="388.7" cy="228" r="1.9" fill="#fff" stroke="#000" stroke-width="1.8"/>
<circle cx="388.7" cy="245.5" r="1.9" fill="#fff" stroke="#000" stroke-width="1.8"/>
<polyline points="382.9,242.6 389,229" fill="none" stroke="#000" stroke-width="2.5" stroke-linejoin="miter" stroke-linecap="round"/>
<text style="white-space:pre" x="392" y="236.6" font-family="Liberation Sans" font-size="8.33" font-weight="normal" textLength="15" lengthAdjust="spacingAndGlyphs">10A</text>
<polyline points="391.7,237.6 408.2,237.6" fill="none" stroke="#000" stroke-width="0.9" stroke-linejoin="miter" stroke-linecap="butt"/>
<text style="white-space:pre" x="392.2" y="246.8" font-family="Liberation Sans" font-size="9.17" font-weight="normal" textLength="9.5" lengthAdjust="spacingAndGlyphs">10</text>
<circle cx="413" cy="228" r="1.9" fill="#fff" stroke="#000" stroke-width="1.8"/>
<circle cx="413" cy="245.5" r="1.9" fill="#fff" stroke="#000" stroke-width="1.8"/>
<polyline points="407.2,242.6 413.3,229" fill="none" stroke="#000" stroke-width="2.5" stroke-linejoin="miter" stroke-linecap="round"/>
<text style="white-space:pre" x="416.3" y="236.6" font-family="Liberation Sans" font-size="8.33" font-weight="normal" textLength="10" lengthAdjust="spacingAndGlyphs">4A</text>
<polyline points="416,237.6 427.5,237.6" fill="none" stroke="#000" stroke-width="0.9" stroke-linejoin="miter" stroke-linecap="butt"/>
<text style="white-space:pre" x="416.5" y="246.8" font-family="Liberation Sans" font-size="9.17" font-weight="normal" textLength="4.5" lengthAdjust="spacingAndGlyphs">4</text>
<circle cx="437" cy="228" r="1.9" fill="#fff" stroke="#000" stroke-width="1.8"/>
<circle cx="437" cy="245.5" r="1.9" fill="#fff" stroke="#000" stroke-width="1.8"/>
<polyline points="431.2,242.6 437.3,229" fill="none" stroke="#000" stroke-width="2.5" stroke-linejoin="miter" stroke-linecap="round"/>
<text style="white-space:pre" x="440.3" y="236.6" font-family="Liberation Sans" font-size="8.33" font-weight="normal" textLength="10" lengthAdjust="spacingAndGlyphs">3A</text>
<text style="white-space:pre" x="440.5" y="246.8" font-family="Liberation Sans" font-size="9.17" font-weight="normal" textLength="4.5" lengthAdjust="spacingAndGlyphs">3</text>
<circle cx="461.3" cy="228" r="1.9" fill="#fff" stroke="#000" stroke-width="1.8"/>
<circle cx="461.3" cy="245.5" r="1.9" fill="#fff" stroke="#000" stroke-width="1.8"/>
<polyline points="455.5,242.6 461.6,229" fill="none" stroke="#000" stroke-width="2.5" stroke-linejoin="miter" stroke-linecap="round"/>
<text style="white-space:pre" x="464.6" y="236.6" font-family="Liberation Sans" font-size="8.33" font-weight="normal" textLength="10" lengthAdjust="spacingAndGlyphs">2A</text>
<text style="white-space:pre" x="464.8" y="244.1" font-family="Liberation Sans" font-size="9.17" font-weight="normal" textLength="4.5" lengthAdjust="spacingAndGlyphs">2</text>
<circle cx="485.7" cy="228" r="1.9" fill="#fff" stroke="#000" stroke-width="1.8"/>
<circle cx="485.7" cy="245.5" r="1.9" fill="#fff" stroke="#000" stroke-width="1.8"/>
<polyline points="479.9,242.6 486,229" fill="none" stroke="#000" stroke-width="2.5" stroke-linejoin="miter" stroke-linecap="round"/>
<text style="white-space:pre" x="489" y="236.6" font-family="Liberation Sans" font-size="8.33" font-weight="normal" textLength="10" lengthAdjust="spacingAndGlyphs">1A</text>
<text style="white-space:pre" x="489.2" y="246.8" font-family="Liberation Sans" font-size="9.17" font-weight="normal" textLength="4.5" lengthAdjust="spacingAndGlyphs">1</text>
<polyline points="364.5,245.5 388.7,245.5" fill="none" stroke="#000" stroke-width="2.0" stroke-linejoin="miter" stroke-linecap="butt"/>
<polyline points="461.3,245.5 485.7,245.5" fill="none" stroke="#000" stroke-width="2.0" stroke-linejoin="miter" stroke-linecap="butt"/>
<text style="white-space:pre" x="248.6" y="242.3" font-family="Liberation Sans" font-size="11.94" font-weight="normal" textLength="10.9" lengthAdjust="spacingAndGlyphs">B2</text>
<polyline points="259.5,238.5 263,238.5" fill="none" stroke="#000" stroke-width="1.3" stroke-linejoin="miter" stroke-linecap="butt"/>
<path d="M262,236.3 L266,239 L262,241.3 Z" fill="#000"/>
<rect x="247.3" y="246.3" width="10.5" height="10.5" fill="#fff" stroke="#000" stroke-width="1.9"/>
<text style="white-space:pre" x="250" y="255" font-family="Liberation Sans" font-size="8.61" font-weight="bold" textLength="5.5" lengthAdjust="spacingAndGlyphs">P</text>
<polyline points="340.6,225.6 340.6,202.7 359.9,202.7 364.3,225.6" fill="none" stroke="#000" stroke-width="1.75" stroke-linejoin="miter" stroke-linecap="butt"/>
<text style="white-space:pre" x="343" y="223.1" font-family="Liberation Sans" font-size="9.44" font-weight="normal" textLength="9" lengthAdjust="spacingAndGlyphs">11</text>
<polyline points="437,225.6 437,169 561.4,169 561.4,380.4 502,380.4 502,342.2" fill="none" stroke="#000" stroke-width="1.75" stroke-linejoin="miter" stroke-linecap="butt"/>
<text style="white-space:pre" x="440" y="167.4" font-family="Liberation Sans" font-size="9.44" font-weight="normal" textLength="10" lengthAdjust="spacingAndGlyphs">22</text>
<polyline points="461.3,225.6 461.3,185.8 510,185.8 510,270.8 323.3,270.8 316.4,247.2" fill="none" stroke="#000" stroke-width="1.75" stroke-linejoin="miter" stroke-linecap="butt"/>
<text style="white-space:pre" x="464" y="185.4" font-family="Liberation Sans" font-size="9.44" font-weight="normal" textLength="10" lengthAdjust="spacingAndGlyphs">44</text>
<text style="white-space:pre" x="325" y="263.4" font-family="Liberation Sans" font-size="9.44" font-weight="normal" textLength="10" lengthAdjust="spacingAndGlyphs">44</text>
<polyline points="388.7,247.2 388.7,283.8 552.7,283.8 552.7,363.3 517.8,363.3 517.8,342.3" fill="none" stroke="#000" stroke-width="1.75" stroke-linejoin="miter" stroke-linecap="butt"/>
<text style="white-space:pre" x="392" y="260.4" font-family="Liberation Sans" font-size="9.44" font-weight="normal" textLength="10" lengthAdjust="spacingAndGlyphs">00</text>
<polyline points="267.5,247.2 267.5,329.4" fill="none" stroke="#000" stroke-width="1.75" stroke-linejoin="miter" stroke-linecap="butt"/>
<text style="white-space:pre" x="270" y="270.9" font-family="Liberation Sans" font-size="9.44" font-weight="normal" textLength="9" lengthAdjust="spacingAndGlyphs">49</text>
<circle cx="267.5" cy="331.1" r="1.9" fill="#fff" stroke="#000" stroke-width="1.8"/>
<rect x="264" y="338" width="6.5" height="16.6" fill="#fff" stroke="#000" stroke-width="1.6"/>
<polyline points="267.5,332.8 267.5,337.5" fill="none" stroke="#000" stroke-width="1.75" stroke-linejoin="miter" stroke-linecap="butt"/>
<polyline points="267.5,354.9 267.5,361.5" fill="none" stroke="#000" stroke-width="1.75" stroke-linejoin="miter" stroke-linecap="butt"/>
<circle cx="267.5" cy="361.5" r="1.9" fill="#fff" stroke="#000" stroke-width="1.8"/>
<text style="white-space:pre" x="255" y="345.75" font-family="Liberation Mono" font-size="8.33" font-weight="bold" textLength="4.5" lengthAdjust="spacingAndGlyphs">H</text>
<text style="white-space:pre" x="255.5" y="354.75" font-family="Liberation Mono" font-size="8.33" font-weight="bold" textLength="4" lengthAdjust="spacingAndGlyphs">1</text>
<polyline points="292,247.2 292,339" fill="none" stroke="#000" stroke-width="1.75" stroke-linejoin="miter" stroke-linecap="butt"/>
<text style="white-space:pre" x="293" y="270.4" font-family="Liberation Sans" font-size="9.44" font-weight="normal" textLength="9" lengthAdjust="spacingAndGlyphs">66</text>
<circle cx="292" cy="346" r="6.8" fill="#fff" stroke="#000" stroke-width="1.6"/>
<polyline points="286.5,344.2 297,344.2" fill="none" stroke="#000" stroke-width="1.6" stroke-linejoin="miter" stroke-linecap="butt"/>
<polyline points="286.5,347.9 297,347.9" fill="none" stroke="#000" stroke-width="1.6" stroke-linejoin="miter" stroke-linecap="butt"/>
<polyline points="292,339 292,344.2" fill="none" stroke="#000" stroke-width="1.3" stroke-linejoin="miter" stroke-linecap="butt"/>
<polyline points="292,347.9 292,353" fill="none" stroke="#000" stroke-width="1.3" stroke-linejoin="miter" stroke-linecap="butt"/>
<text style="white-space:pre" x="278" y="345.75" font-family="Liberation Mono" font-size="8.33" font-weight="bold" textLength="4.5" lengthAdjust="spacingAndGlyphs">K</text>
<text style="white-space:pre" x="278.5" y="354.75" font-family="Liberation Mono" font-size="8.33" font-weight="bold" textLength="4.5" lengthAdjust="spacingAndGlyphs">2</text>
<polyline points="316.4,247.2 316.4,363 405.6,363 405.6,397.3" fill="none" stroke="#000" stroke-width="1.75" stroke-linejoin="miter" stroke-linecap="butt"/>
<text style="white-space:pre" x="408" y="394.7" font-family="Liberation Sans" font-size="9.44" font-weight="normal" textLength="9" lengthAdjust="spacingAndGlyphs">44</text>
<polyline points="340.6,247.2 340.6,407.2" fill="none" stroke="#000" stroke-width="1.75" stroke-linejoin="miter" stroke-linecap="butt"/>
<text style="white-space:pre" x="343" y="261.4" font-family="Liberation Sans" font-size="9.44" font-weight="normal" textLength="9" lengthAdjust="spacingAndGlyphs">90</text>
<circle cx="340.3" cy="414.5" r="6.8" fill="#fff" stroke="#000" stroke-width="1.45"/>
<circle cx="340.3" cy="407.6" r="1.25" fill="#000"/>
<circle cx="340.3" cy="421.4" r="1.25" fill="#000"/>
<text style="white-space:pre" x="336" y="417.6" font-family="Liberation Sans" font-size="8.61" font-weight="normal" textLength="8.5" lengthAdjust="spacingAndGlyphs">M</text>
<polyline points="340.3,407.5 346,392.6 356.5,392.6 356.5,464.6 580.1,464.6 580.1,171.8 788,171.8" fill="none" stroke="#000" stroke-width="1.75" stroke-linejoin="miter" stroke-linecap="butt"/>
<text style="white-space:pre" x="348" y="389.4" font-family="Liberation Sans" font-size="9.44" font-weight="normal" textLength="9" lengthAdjust="spacingAndGlyphs">90</text>
<text style="white-space:pre" x="360" y="460.4" font-family="Liberation Sans" font-size="9.44" font-weight="normal" textLength="10" lengthAdjust="spacingAndGlyphs">90</text>
<text style="white-space:pre" x="582.5" y="458.4" font-family="Liberation Sans" font-size="9.44" font-weight="normal" textLength="8.5" lengthAdjust="spacingAndGlyphs">90</text>
<text style="white-space:pre" x="575" y="170.4" font-family="Liberation Sans" font-size="9.44" font-weight="normal" textLength="9" lengthAdjust="spacingAndGlyphs">90</text>
<circle cx="534" cy="464.6" r="2.3" fill="#000"/>
<text style="white-space:pre" x="324.5" y="413.1" font-family="Liberation Sans" font-size="8.89" font-weight="normal" textLength="7.2" lengthAdjust="spacingAndGlyphs">M</text>
<text style="white-space:pre" x="326.9" y="421.75" font-family="Liberation Sans" font-size="8.75" font-weight="normal" textLength="4" lengthAdjust="spacingAndGlyphs">2</text>
<polyline points="340.3,421.5 340.3,448.1 380.6,448.1 380.8,421" fill="none" stroke="#000" stroke-width="1.75" stroke-linejoin="miter" stroke-linecap="butt"/>
<text style="white-space:pre" x="342.5" y="436.4" font-family="Liberation Sans" font-size="9.44" font-weight="normal" textLength="9" lengthAdjust="spacingAndGlyphs">66</text>
<text style="white-space:pre" x="383" y="433.4" font-family="Liberation Sans" font-size="9.44" font-weight="normal" textLength="9" lengthAdjust="spacingAndGlyphs">66</text>
<polyline points="364.5,247.2 364.5,371.7 380.8,371.7 380.8,406.5" fill="none" stroke="#000" stroke-width="1.75" stroke-linejoin="miter" stroke-linecap="butt"/>
<text style="white-space:pre" x="382.7" y="395" font-family="Liberation Sans" font-size="9.44" font-weight="normal" textLength="9.3" lengthAdjust="spacingAndGlyphs">09</text>
<text style="white-space:pre" x="367" y="260.4" font-family="Liberation Sans" font-size="9.44" font-weight="normal" textLength="9" lengthAdjust="spacingAndGlyphs">09</text>
<circle cx="380.8" cy="413.5" r="6.8" fill="#fff" stroke="#000" stroke-width="1.45"/>
<circle cx="380.8" cy="406.6" r="1.25" fill="#000"/>
<circle cx="380.8" cy="420.4" r="1.25" fill="#000"/>
<polyline points="376,408.5 385.6,418.5" fill="none" stroke="#000" stroke-width="1.2" stroke-linejoin="miter" stroke-linecap="butt"/>
<polyline points="385.6,408.5 376,418.5" fill="none" stroke="#000" stroke-width="1.2" stroke-linejoin="miter" stroke-linecap="butt"/>
<text style="white-space:pre" x="369" y="413.4" font-family="Liberation Sans" font-size="9.44" font-weight="normal" textLength="4.5" lengthAdjust="spacingAndGlyphs">L</text>
<text style="white-space:pre" x="369.5" y="422.4" font-family="Liberation Sans" font-size="9.44" font-weight="normal" textLength="3" lengthAdjust="spacingAndGlyphs">I</text>
<polyline points="413,247.2 413.6,354.9 463.3,354.9 469,340.5" fill="none" stroke="#000" stroke-width="1.75" stroke-linejoin="miter" stroke-linecap="butt"/>
<text style="white-space:pre" x="416" y="260.9" font-family="Liberation Sans" font-size="9.44" font-weight="normal" textLength="9" lengthAdjust="spacingAndGlyphs">69</text>
<text style="white-space:pre" x="451" y="353.4" font-family="Liberation Sans" font-size="9.44" font-weight="normal" textLength="9" lengthAdjust="spacingAndGlyphs">69</text>
<polyline points="437,247.2 437,362.8 453.3,362.8 453.3,412" fill="none" stroke="#000" stroke-width="1.75" stroke-linejoin="miter" stroke-linecap="butt"/>
<text style="white-space:pre" x="440" y="260.4" font-family="Liberation Sans" font-size="9.44" font-weight="normal" textLength="9" lengthAdjust="spacingAndGlyphs">22</text>
<text style="white-space:pre" x="454.5" y="394.7" font-family="Liberation Sans" font-size="9.44" font-weight="normal" textLength="9" lengthAdjust="spacingAndGlyphs">22</text>
<polyline points="485.7,247.2 485.7,319.8" fill="none" stroke="#000" stroke-width="1.75" stroke-linejoin="miter" stroke-linecap="butt"/>
<text style="white-space:pre" x="489" y="261.4" font-family="Liberation Sans" font-size="9.44" font-weight="normal" textLength="9" lengthAdjust="spacingAndGlyphs">66</text>
<circle cx="405.6" cy="399" r="1.9" fill="#fff" stroke="#000" stroke-width="1.8"/>
<rect x="402.3" y="405.5" width="6.6" height="17.2" fill="#fff" stroke="#000" stroke-width="1.6"/>
<polyline points="405.6,400.7 405.6,405" fill="none" stroke="#000" stroke-width="1.75" stroke-linejoin="miter" stroke-linecap="butt"/>
<polyline points="405.6,422.9 405.6,427.6" fill="none" stroke="#000" stroke-width="1.75" stroke-linejoin="miter" stroke-linecap="butt"/>
<circle cx="405.6" cy="429.3" r="1.9" fill="#fff" stroke="#000" stroke-width="1.8"/>
<circle cx="429" cy="399" r="1.9" fill="#fff" stroke="#000" stroke-width="1.8"/>
<rect x="425.7" y="405.5" width="6.6" height="17.2" fill="#fff" stroke="#000" stroke-width="1.6"/>
<polyline points="429,400.7 429,405" fill="none" stroke="#000" stroke-width="1.75" stroke-linejoin="miter" stroke-linecap="butt"/>
<polyline points="429,422.9 429,427.6" fill="none" stroke="#000" stroke-width="1.75" stroke-linejoin="miter" stroke-linecap="butt"/>
<circle cx="429" cy="429.3" r="1.9" fill="#fff" stroke="#000" stroke-width="1.8"/>
<text style="white-space:pre" x="403.5" y="417.1" font-family="Liberation Sans" font-size="8.61" font-weight="normal" textLength="4.5" lengthAdjust="spacingAndGlyphs">L</text>
<text style="white-space:pre" x="426.5" y="417.1" font-family="Liberation Sans" font-size="8.61" font-weight="normal" textLength="5" lengthAdjust="spacingAndGlyphs">R</text>
<text style="white-space:pre" x="395.5" y="413.4" font-family="Liberation Sans" font-size="9.44" font-weight="normal" textLength="5" lengthAdjust="spacingAndGlyphs">E</text>
<text style="white-space:pre" x="396.5" y="422.4" font-family="Liberation Sans" font-size="9.44" font-weight="normal" textLength="3" lengthAdjust="spacingAndGlyphs">I</text>
<text style="white-space:pre" x="437" y="413.4" font-family="Liberation Sans" font-size="9.44" font-weight="normal" textLength="4.5" lengthAdjust="spacingAndGlyphs">E</text>
<text style="white-space:pre" x="438" y="422.4" font-family="Liberation Sans" font-size="9.44" font-weight="normal" textLength="3" lengthAdjust="spacingAndGlyphs">I</text>
<polyline points="405.6,431 405.6,447.7 420.5,447.7 429,431" fill="none" stroke="#000" stroke-width="1.75" stroke-linejoin="miter" stroke-linecap="butt"/>
<polyline points="429,431 429,447.7 453.3,447.7 453.3,431" fill="none" stroke="#000" stroke-width="1.75" stroke-linejoin="miter" stroke-linecap="butt"/>
<text style="white-space:pre" x="407" y="446.4" font-family="Liberation Sans" font-size="9.44" font-weight="normal" textLength="10" lengthAdjust="spacingAndGlyphs">22</text>
<text style="white-space:pre" x="438" y="446.4" font-family="Liberation Sans" font-size="9.44" font-weight="normal" textLength="10" lengthAdjust="spacingAndGlyphs">22</text>
<polyline points="469,340.5 469,371.7 428.5,371.7 428.5,397.3" fill="none" stroke="#000" stroke-width="1.75" stroke-linejoin="miter" stroke-linecap="butt"/>
<text style="white-space:pre" x="431" y="394.7" font-family="Liberation Sans" font-size="9.44" font-weight="normal" textLength="9" lengthAdjust="spacingAndGlyphs">69</text>
<circle cx="453.2" cy="414" r="2.4" fill="#000"/>
<circle cx="453.2" cy="430.7" r="2.4" fill="#000"/>
<polyline points="453.3,414 453.3,431" fill="none" stroke="#000" stroke-width="1.75" stroke-linejoin="miter" stroke-linecap="butt"/>
<polyline points="444.8,424 448.5,424 448.5,421.2 452.5,421.2" fill="none" stroke="#000" stroke-width="2" stroke-linejoin="miter" stroke-linecap="butt"/>
<text style="white-space:pre" x="458" y="426" font-family="Liberation Sans" font-size="8.33" font-weight="normal" textLength="8" lengthAdjust="spacingAndGlyphs">ZI</text>
<polyline points="468.9,321.7 468.9,304.6 476.8,304.6 485.6,321.7" fill="none" stroke="#000" stroke-width="1.75" stroke-linejoin="miter" stroke-linecap="butt"/>
<polyline points="501.4,321.7 501.4,304.6 509.4,304.6 517.8,321.7" fill="none" stroke="#000" stroke-width="1.75" stroke-linejoin="miter" stroke-linecap="butt"/>
<polyline points="517.8,321.7 526,304.6 534,304.6 534,321.7" fill="none" stroke="#000" stroke-width="1.75" stroke-linejoin="miter" stroke-linecap="butt"/>
<text style="white-space:pre" x="468" y="303.4" font-family="Liberation Sans" font-size="9.44" font-weight="normal" textLength="9" lengthAdjust="spacingAndGlyphs">66</text>
<text style="white-space:pre" x="501" y="303.4" font-family="Liberation Sans" font-size="9.44" font-weight="normal" textLength="8.5" lengthAdjust="spacingAndGlyphs">11</text>
<text style="white-space:pre" x="527" y="303.4" font-family="Liberation Sans" font-size="9.44" font-weight="normal" textLength="8.5" lengthAdjust="spacingAndGlyphs">11</text>
<circle cx="468.9" cy="321.7" r="1.9" fill="#fff" stroke="#000" stroke-width="1.8"/>
<circle cx="501.4" cy="321.7" r="1.9" fill="#fff" stroke="#000" stroke-width="1.8"/>
<circle cx="517.8" cy="321.7" r="1.9" fill="#fff" stroke="#000" stroke-width="1.8"/>
<circle cx="534" cy="321.7" r="1.9" fill="#fff" stroke="#000" stroke-width="1.8"/>
<circle cx="485.6" cy="321.7" r="1.9" fill="#fff" stroke="#000" stroke-width="1.8"/>
<circle cx="469.2" cy="340.4" r="1.8" fill="#fff" stroke="#000" stroke-width="1.8"/>
<circle cx="501.7" cy="340.5" r="1.4" fill="#000" stroke="#000" stroke-width="1.4"/>
<circle cx="517.8" cy="340.5" r="1.4" fill="#000" stroke="#000" stroke-width="1.4"/>
<circle cx="534" cy="340.5" r="1.4" fill="#000" stroke="#000" stroke-width="1.4"/>
<polyline points="464.1,336 469.7,322.5" fill="none" stroke="#000" stroke-width="2.6" stroke-linejoin="miter" stroke-linecap="round"/>
<polyline points="496.7,336 502.3,322.5" fill="none" stroke="#000" stroke-width="2.6" stroke-linejoin="miter" stroke-linecap="round"/>
<polyline points="512.5,336 518.1,322.5" fill="none" stroke="#000" stroke-width="2.6" stroke-linejoin="miter" stroke-linecap="round"/>
<polyline points="528.4,336 534,322.5" fill="none" stroke="#000" stroke-width="2.6" stroke-linejoin="miter" stroke-linecap="round"/>
<path d="M499.3,327.3 Q503,325.8 505.8,330.4" fill="none" stroke="#000" stroke-width="1.6"/>
<polyline points="463.4,326.3 463.4,335.5" fill="none" stroke="#000" stroke-width="2.8" stroke-linejoin="miter" stroke-linecap="butt"/>
<polyline points="463,329.4 475,329.4" fill="none" stroke="#000" stroke-width="1.3" stroke-linejoin="miter" stroke-linecap="butt"/>
<polyline points="479.7,329.4 486.8,329.4" fill="none" stroke="#000" stroke-width="1.3" stroke-linejoin="miter" stroke-linecap="butt"/>
<polyline points="491.6,329.4 497,329.4" fill="none" stroke="#000" stroke-width="1.3" stroke-linejoin="miter" stroke-linecap="butt"/>
<rect x="446.5" y="329.6" width="10.2" height="10.6" fill="#fff" stroke="#000" stroke-width="1.9"/>
<line x1="448" y1="331.6" x2="455.5" y2="331.6" stroke="#000" stroke-width="0.9" stroke-dasharray="1,0.8"/>
<text style="white-space:pre" x="448" y="326" font-family="Liberation Sans" font-size="8.33" font-weight="normal" textLength="9.5" lengthAdjust="spacingAndGlyphs">B6</text>
<text style="white-space:pre" x="473" y="327.5" font-family="Liberation Sans" font-size="8.33" font-weight="normal" textLength="9.5" lengthAdjust="spacingAndGlyphs">P2</text>
<text style="white-space:pre" x="490" y="328" font-family="Liberation Sans" font-size="8.33" font-weight="normal" textLength="4.5" lengthAdjust="spacingAndGlyphs">4</text>
<text style="white-space:pre" x="505" y="326.5" font-family="Liberation Sans" font-size="8.33" font-weight="normal" textLength="8.5" lengthAdjust="spacingAndGlyphs">P1</text>
<text style="white-space:pre" x="521" y="327.5" font-family="Liberation Sans" font-size="8.33" font-weight="normal" textLength="9" lengthAdjust="spacingAndGlyphs">S1</text>
<text style="white-space:pre" x="537" y="327" font-family="Liberation Sans" font-size="8.33" font-weight="normal" textLength="4.5" lengthAdjust="spacingAndGlyphs">4</text>
<polyline points="469,340.5 482.4,340.5" fill="none" stroke="#000" stroke-width="1.75" stroke-linejoin="miter" stroke-linecap="butt"/>
<rect x="482.9" y="339" width="8.7" height="3.1" fill="#fff" stroke="#000" stroke-width="1.5"/>
<polyline points="491.1,340.5 501.7,340.5" fill="none" stroke="#000" stroke-width="1.75" stroke-linejoin="miter" stroke-linecap="butt"/>
<text style="white-space:pre" x="473" y="339.25" font-family="Liberation Sans" font-size="7.64" font-weight="normal" textLength="8.5" lengthAdjust="spacingAndGlyphs">4a</text>
<text style="white-space:pre" x="486" y="353.4" font-family="Liberation Sans" font-size="9.44" font-weight="normal" textLength="4.5" lengthAdjust="spacingAndGlyphs">R</text>
<text style="white-space:pre" x="505" y="341.9" font-family="Liberation Sans" font-size="9.44" font-weight="normal" textLength="5" lengthAdjust="spacingAndGlyphs">2</text>
<text style="white-space:pre" x="504" y="350.4" font-family="Liberation Sans" font-size="9.44" font-weight="normal" textLength="9" lengthAdjust="spacingAndGlyphs">22</text>
<text style="white-space:pre" x="520" y="339.75" font-family="Liberation Sans" font-size="7.64" font-weight="normal" textLength="8.5" lengthAdjust="spacingAndGlyphs">S2</text>
<text style="white-space:pre" x="538" y="339.75" font-family="Liberation Sans" font-size="7.64" font-weight="normal" textLength="9" lengthAdjust="spacingAndGlyphs">4b</text>
<text style="white-space:pre" x="521" y="349.9" font-family="Liberation Sans" font-size="9.44" font-weight="normal" textLength="8.5" lengthAdjust="spacingAndGlyphs">00</text>
<text style="white-space:pre" x="536" y="349.9" font-family="Liberation Sans" font-size="9.44" font-weight="normal" textLength="9" lengthAdjust="spacingAndGlyphs">90</text>
<polyline points="534,342.2 534,464.6" fill="none" stroke="#000" stroke-width="1.75" stroke-linejoin="miter" stroke-linecap="butt"/>
<polyline points="796,334 807.5,334" fill="none" stroke="#000" stroke-width="1.8" stroke-linejoin="miter" stroke-linecap="butt"/>
<polyline points="796,118 835.2,118 835.2,284.9" fill="none" stroke="#000" stroke-width="1.8" stroke-linejoin="miter" stroke-linecap="butt"/>
<polyline points="835.2,291.7 835.2,304" fill="none" stroke="#000" stroke-width="1.8" stroke-linejoin="miter" stroke-linecap="butt"/>
<polyline points="835.2,310.8 835.2,334 823.8,334" fill="none" stroke="#000" stroke-width="1.8" stroke-linejoin="miter" stroke-linecap="butt"/>
<circle cx="835.2" cy="288.3" r="3.2" fill="#fff" stroke="#000" stroke-width="1.5"/>
<circle cx="835.2" cy="307.4" r="3.2" fill="#fff" stroke="#000" stroke-width="1.5"/>
<text style="white-space:pre" x="817.2" y="291.05" font-family="Liberation Mono" font-size="8.33" font-weight="bold" textLength="11.8" lengthAdjust="spacingAndGlyphs">Vss</text>
<text style="white-space:pre" x="808.8" y="310.15" font-family="Liberation Mono" font-size="8.33" font-weight="bold" textLength="20.2" lengthAdjust="spacingAndGlyphs">Rx/Tx</text>
<text style="white-space:pre" x="815.5" y="222.6" font-family="Liberation Sans" font-size="12.5" font-weight="normal" textLength="11.3" lengthAdjust="spacingAndGlyphs">CR</text>
<path d="M790.3,127.4 A3.4,3.4 0 0 0 790.3,134.2" fill="none" stroke="#000" stroke-width="1.8"/>
<path d="M790.3,143.7 A3.4,3.4 0 0 0 790.3,150.5" fill="none" stroke="#000" stroke-width="1.8"/>
<path d="M790.3,158.2 A3.4,3.4 0 0 0 790.3,165" fill="none" stroke="#000" stroke-width="1.8"/>
<path d="M790.3,168.6 A3.4,3.4 0 0 0 790.3,175.4" fill="none" stroke="#000" stroke-width="1.8"/>
<path d="M790.3,179.1 A3.4,3.4 0 0 0 790.3,185.9" fill="none" stroke="#000" stroke-width="1.8"/>
<path d="M790.3,192.7 A3.4,3.4 0 0 0 790.3,199.5" fill="none" stroke="#000" stroke-width="1.8"/>
<path d="M790.3,216.4 A3.4,3.4 0 0 0 790.3,223.2" fill="none" stroke="#000" stroke-width="1.8"/>
<path d="M790.3,237.3 A3.4,3.4 0 0 0 790.3,244.1" fill="none" stroke="#000" stroke-width="1.8"/>
<path d="M790.3,248.2 A3.4,3.4 0 0 0 790.3,255" fill="none" stroke="#000" stroke-width="1.8"/>
<path d="M790.3,259.2 A3.4,3.4 0 0 0 790.3,266" fill="none" stroke="#000" stroke-width="1.8"/>
<path d="M790.3,269.1 A3.4,3.4 0 0 0 790.3,275.9" fill="none" stroke="#000" stroke-width="1.8"/>
<path d="M790.3,279.8 A3.4,3.4 0 0 0 790.3,286.6" fill="none" stroke="#000" stroke-width="1.8"/>
<path d="M796,118 L796,127.4 A3.4,3.4 0 0 1 796,134.2 L796,143.7 A3.4,3.4 0 0 1 796,150.5 L796,158.2 A3.4,3.4 0 0 1 796,165 L796,168.6 A3.4,3.4 0 0 1 796,175.4 L796,179.1 A3.4,3.4 0 0 1 796,185.9 L796,192.7 A3.4,3.4 0 0 1 796,199.5 L796,216.4 A3.4,3.4 0 0 1 796,223.2 L796,237.3 A3.4,3.4 0 0 1 796,244.1 L796,248.2 A3.4,3.4 0 0 1 796,255 L796,259.2 A3.4,3.4 0 0 1 796,266 L796,269.1 A3.4,3.4 0 0 1 796,275.9 L796,279.8 A3.4,3.4 0 0 1 796,286.6 L796,334" fill="none" stroke="#000" stroke-width="1.8"/>
<text transform="translate(802.4,126.9) rotate(90)" x="0" y="0" font-family="Liberation Mono" font-size="8.79" font-weight="bold" textLength="7.9" lengthAdjust="spacingAndGlyphs">R4</text>
<text transform="translate(802.4,142.7) rotate(90)" x="0" y="0" font-family="Liberation Mono" font-size="8.79" font-weight="bold" textLength="8" lengthAdjust="spacingAndGlyphs">R2</text>
<text transform="translate(802.4,156.6) rotate(90)" x="0" y="0" font-family="Liberation Mono" font-size="8.79" font-weight="bold" textLength="8" lengthAdjust="spacingAndGlyphs">R3</text>
<text transform="translate(802.4,167.5) rotate(90)" x="0" y="0" font-family="Liberation Mono" font-size="8.79" font-weight="bold" textLength="8" lengthAdjust="spacingAndGlyphs">R1</text>
<text transform="translate(802.4,178.5) rotate(90)" x="0" y="0" font-family="Liberation Mono" font-size="8.79" font-weight="bold" textLength="8.9" lengthAdjust="spacingAndGlyphs">RL</text>
<text transform="translate(802.4,192.1) rotate(90)" x="0" y="0" font-family="Liberation Mono" font-size="8.79" font-weight="bold" textLength="19.7" lengthAdjust="spacingAndGlyphs">L3/P</text>
<text transform="translate(802.4,217.1) rotate(90)" x="0" y="0" font-family="Liberation Mono" font-size="8.79" font-weight="bold" textLength="9" lengthAdjust="spacingAndGlyphs">L3</text>
<text transform="translate(802.4,238.6) rotate(90)" x="0" y="0" font-family="Liberation Mono" font-size="8.79" font-weight="bold" textLength="5.1" lengthAdjust="spacingAndGlyphs">M</text>
<text transform="translate(802.4,248.6) rotate(90)" x="0" y="0" font-family="Liberation Mono" font-size="8.79" font-weight="bold" textLength="6" lengthAdjust="spacingAndGlyphs">N</text>
<text transform="translate(802.4,259.5) rotate(90)" x="0" y="0" font-family="Liberation Mono" font-size="8.79" font-weight="bold" textLength="5" lengthAdjust="spacingAndGlyphs">L</text>
<text transform="translate(802.4,268.5) rotate(90)" x="0" y="0" font-family="Liberation Mono" font-size="8.79" font-weight="bold" textLength="9.9" lengthAdjust="spacingAndGlyphs">M1</text>
<text transform="translate(802.4,280.4) rotate(90)" x="0" y="0" font-family="Liberation Mono" font-size="8.79" font-weight="bold" textLength="9.9" lengthAdjust="spacingAndGlyphs">M2</text>
<text transform="translate(777.7,118.9) rotate(90)" x="0" y="0" font-family="Liberation Sans" font-size="9.17" font-weight="normal" textLength="9.9" lengthAdjust="spacingAndGlyphs">22</text>
<text transform="translate(777.7,135.8) rotate(90)" x="0" y="0" font-family="Liberation Sans" font-size="9.17" font-weight="normal" textLength="9.9" lengthAdjust="spacingAndGlyphs">49</text>
<text transform="translate(777.7,151.3) rotate(90)" x="0" y="0" font-family="Liberation Sans" font-size="9.17" font-weight="normal" textLength="8.3" lengthAdjust="spacingAndGlyphs">99</text>
<text transform="translate(777.7,161.6) rotate(90)" x="0" y="0" font-family="Liberation Sans" font-size="9.17" font-weight="normal" textLength="9" lengthAdjust="spacingAndGlyphs">90</text>
<text transform="translate(777.7,184.5) rotate(90)" x="0" y="0" font-family="Liberation Sans" font-size="9.17" font-weight="normal" textLength="8.9" lengthAdjust="spacingAndGlyphs">69</text>
<text transform="translate(777.7,200) rotate(90)" x="0" y="0" font-family="Liberation Sans" font-size="9.17" font-weight="normal" textLength="8.5" lengthAdjust="spacingAndGlyphs">11</text>
<text transform="translate(777.7,242) rotate(90)" x="0" y="0" font-family="Liberation Sans" font-size="9.17" font-weight="normal" textLength="10" lengthAdjust="spacingAndGlyphs">66</text>
<text transform="translate(777.7,263.6) rotate(90)" x="0" y="0" font-family="Liberation Sans" font-size="9.17" font-weight="normal" textLength="7.9" lengthAdjust="spacingAndGlyphs">09</text>
<text transform="translate(777.7,286) rotate(90)" x="0" y="0" font-family="Liberation Sans" font-size="9.17" font-weight="normal" textLength="9" lengthAdjust="spacingAndGlyphs">69</text>
<polyline points="724.2,130.8 786.9,130.8" fill="none" stroke="#000" stroke-width="1.75" stroke-linejoin="miter" stroke-linecap="butt"/>
<polyline points="724.2,130.8 724.2,318" fill="none" stroke="#000" stroke-width="1.75" stroke-linejoin="miter" stroke-linecap="butt"/>
<polyline points="744.6,147.1 786.9,147.1" fill="none" stroke="#000" stroke-width="1.75" stroke-linejoin="miter" stroke-linecap="butt"/>
<polyline points="744.6,147.1 744.6,318" fill="none" stroke="#000" stroke-width="1.75" stroke-linejoin="miter" stroke-linecap="butt"/>
<polyline points="765.5,161.6 786.9,161.6" fill="none" stroke="#000" stroke-width="1.75" stroke-linejoin="miter" stroke-linecap="butt"/>
<polyline points="765.5,161.6 765.5,318" fill="none" stroke="#000" stroke-width="1.75" stroke-linejoin="miter" stroke-linecap="butt"/>
<polyline points="650.6,182.5 786.9,182.5" fill="none" stroke="#000" stroke-width="1.75" stroke-linejoin="miter" stroke-linecap="butt"/>
<polyline points="650.6,182.5 650.6,327.5" fill="none" stroke="#000" stroke-width="1.75" stroke-linejoin="miter" stroke-linecap="butt"/>
<polyline points="627.8,272.5 786.9,272.5" fill="none" stroke="#000" stroke-width="1.75" stroke-linejoin="miter" stroke-linecap="butt"/>
<polyline points="627.8,272.5 627.8,327.5" fill="none" stroke="#000" stroke-width="1.75" stroke-linejoin="miter" stroke-linecap="butt"/>
<polyline points="703.3,283.2 786.9,283.2" fill="none" stroke="#000" stroke-width="1.75" stroke-linejoin="miter" stroke-linecap="butt"/>
<polyline points="703.3,283.2 703.3,327.5" fill="none" stroke="#000" stroke-width="1.75" stroke-linejoin="miter" stroke-linecap="butt"/>
<polyline points="580.1,171.8 786.9,171.8" fill="none" stroke="#000" stroke-width="1.75" stroke-linejoin="miter" stroke-linecap="butt"/>
<text style="white-space:pre" x="727" y="309.9" font-family="Liberation Sans" font-size="9.44" font-weight="normal" textLength="8.5" lengthAdjust="spacingAndGlyphs">22</text>
<text style="white-space:pre" x="747" y="309.9" font-family="Liberation Sans" font-size="9.44" font-weight="normal" textLength="9" lengthAdjust="spacingAndGlyphs">49</text>
<text style="white-space:pre" x="767.5" y="309.9" font-family="Liberation Sans" font-size="9.44" font-weight="normal" textLength="9.5" lengthAdjust="spacingAndGlyphs">99</text>
<text style="white-space:pre" x="630" y="309.4" font-family="Liberation Sans" font-size="9.44" font-weight="normal" textLength="9" lengthAdjust="spacingAndGlyphs">09</text>
<text style="white-space:pre" x="653" y="309.4" font-family="Liberation Sans" font-size="9.44" font-weight="normal" textLength="9" lengthAdjust="spacingAndGlyphs">69</text>
<text style="white-space:pre" x="706" y="309.4" font-family="Liberation Sans" font-size="9.44" font-weight="normal" textLength="9" lengthAdjust="spacingAndGlyphs">69</text>
<circle cx="627.8" cy="334.9" r="6.8" fill="#fff" stroke="#000" stroke-width="1.45"/>
<circle cx="627.8" cy="328" r="1.25" fill="#000"/>
<circle cx="627.8" cy="341.8" r="1.25" fill="#000"/>
<text style="white-space:pre" x="623.5" y="338" font-family="Liberation Sans" font-size="8.61" font-weight="normal" textLength="8.5" lengthAdjust="spacingAndGlyphs">M</text>
<text style="white-space:pre" x="614" y="335.4" font-family="Liberation Sans" font-size="9.44" font-weight="normal" textLength="6" lengthAdjust="spacingAndGlyphs">M</text>
<text style="white-space:pre" x="616" y="343.9" font-family="Liberation Sans" font-size="9.44" font-weight="normal" textLength="3" lengthAdjust="spacingAndGlyphs">I</text>
<circle cx="650.6" cy="334.5" r="6.8" fill="#fff" stroke="#000" stroke-width="1.45"/>
<circle cx="650.6" cy="327.6" r="1.25" fill="#000"/>
<circle cx="650.6" cy="341.4" r="1.25" fill="#000"/>
<polyline points="645.8,329.5 655.4,339.5" fill="none" stroke="#000" stroke-width="1.2" stroke-linejoin="miter" stroke-linecap="butt"/>
<polyline points="655.4,329.5 645.8,339.5" fill="none" stroke="#000" stroke-width="1.2" stroke-linejoin="miter" stroke-linecap="butt"/>
<text style="white-space:pre" x="639" y="335.4" font-family="Liberation Sans" font-size="9.44" font-weight="normal" textLength="4.5" lengthAdjust="spacingAndGlyphs">L</text>
<text style="white-space:pre" x="640" y="343.9" font-family="Liberation Sans" font-size="9.44" font-weight="normal" textLength="3" lengthAdjust="spacingAndGlyphs">I</text>
<circle cx="703.3" cy="334.9" r="6.8" fill="#fff" stroke="#000" stroke-width="1.45"/>
<circle cx="703.3" cy="328" r="1.25" fill="#000"/>
<circle cx="703.3" cy="341.8" r="1.25" fill="#000"/>
<text style="white-space:pre" x="699.5" y="337.9" font-family="Liberation Mono" font-size="9.09" font-weight="bold" textLength="7.5" lengthAdjust="spacingAndGlyphs">M</text>
<text style="white-space:pre" x="690" y="334.75" font-family="Liberation Mono" font-size="8.33" font-weight="bold" textLength="5" lengthAdjust="spacingAndGlyphs">M</text>
<text style="white-space:pre" x="690" y="343.25" font-family="Liberation Mono" font-size="8.33" font-weight="bold" textLength="5" lengthAdjust="spacingAndGlyphs">2</text>
<text style="white-space:pre" x="630" y="364.9" font-family="Liberation Sans" font-size="9.44" font-weight="normal" textLength="9" lengthAdjust="spacingAndGlyphs">29</text>
<text style="white-space:pre" x="653.6" y="364.9" font-family="Liberation Sans" font-size="9.44" font-weight="normal" textLength="8.4" lengthAdjust="spacingAndGlyphs">00</text>
<text style="white-space:pre" x="595" y="390.4" font-family="Liberation Sans" font-size="9.44" font-weight="normal" textLength="9" lengthAdjust="spacingAndGlyphs">00</text>
<polyline points="650.6,341.5 650.6,394 715.2,394 724.2,351.5" fill="none" stroke="#000" stroke-width="1.75" stroke-linejoin="miter" stroke-linecap="butt"/>
<circle cx="724.2" cy="319.7" r="1.9" fill="#fff" stroke="#000" stroke-width="1.8"/>
<rect x="720.9" y="326.7" width="6.6" height="16.9" fill="#fff" stroke="#000" stroke-width="1.7"/>
<polyline points="724.2,321.4 724.2,326.7" fill="none" stroke="#000" stroke-width="1.75" stroke-linejoin="miter" stroke-linecap="butt"/>
<polyline points="724.2,343.6 724.2,348.8" fill="none" stroke="#000" stroke-width="1.75" stroke-linejoin="miter" stroke-linecap="butt"/>
<circle cx="724.2" cy="350.5" r="1.9" fill="#fff" stroke="#000" stroke-width="1.8"/>
<text style="white-space:pre" x="715" y="335.75" font-family="Liberation Mono" font-size="8.33" font-weight="bold" textLength="3.8" lengthAdjust="spacingAndGlyphs">E</text>
<text style="white-space:pre" x="715.2" y="344.25" font-family="Liberation Mono" font-size="8.33" font-weight="bold" textLength="3.4" lengthAdjust="spacingAndGlyphs">I</text>
<circle cx="744.6" cy="319.7" r="1.9" fill="#fff" stroke="#000" stroke-width="1.8"/>
<rect x="741.3" y="326.7" width="6.6" height="16.9" fill="#fff" stroke="#000" stroke-width="1.7"/>
<polyline points="744.6,321.4 744.6,326.7" fill="none" stroke="#000" stroke-width="1.75" stroke-linejoin="miter" stroke-linecap="butt"/>
<polyline points="744.6,343.6 744.6,348.8" fill="none" stroke="#000" stroke-width="1.75" stroke-linejoin="miter" stroke-linecap="butt"/>
<circle cx="744.6" cy="350.5" r="1.9" fill="#fff" stroke="#000" stroke-width="1.8"/>
<text style="white-space:pre" x="735.4" y="335.75" font-family="Liberation Mono" font-size="8.33" font-weight="bold" textLength="3.8" lengthAdjust="spacingAndGlyphs">H</text>
<text style="white-space:pre" x="735.6" y="344.25" font-family="Liberation Mono" font-size="8.33" font-weight="bold" textLength="3.4" lengthAdjust="spacingAndGlyphs">I</text>
<circle cx="765.5" cy="319.7" r="1.9" fill="#fff" stroke="#000" stroke-width="1.8"/>
<rect x="762.2" y="326.7" width="6.6" height="16.9" fill="#fff" stroke="#000" stroke-width="1.7"/>
<polyline points="765.5,321.4 765.5,326.7" fill="none" stroke="#000" stroke-width="1.75" stroke-linejoin="miter" stroke-linecap="butt"/>
<polyline points="765.5,343.6 765.5,348.8" fill="none" stroke="#000" stroke-width="1.75" stroke-linejoin="miter" stroke-linecap="butt"/>
<circle cx="765.5" cy="350.5" r="1.9" fill="#fff" stroke="#000" stroke-width="1.8"/>
<text style="white-space:pre" x="756.3" y="335.75" font-family="Liberation Mono" font-size="8.33" font-weight="bold" textLength="3.8" lengthAdjust="spacingAndGlyphs">F</text>
<text style="white-space:pre" x="756.5" y="344.25" font-family="Liberation Mono" font-size="8.33" font-weight="bold" textLength="3.4" lengthAdjust="spacingAndGlyphs">I</text>
<polyline points="724.2,352.2 724.2,393.7 737.7,393.7 744.6,352.2" fill="none" stroke="#000" stroke-width="1.75" stroke-linejoin="miter" stroke-linecap="butt"/>
<polyline points="744.6,352.2 744.6,393.7 765.5,393.7 765.5,352.2" fill="none" stroke="#000" stroke-width="1.75" stroke-linejoin="miter" stroke-linecap="butt"/>
<text style="white-space:pre" x="727" y="370.4" font-family="Liberation Sans" font-size="9.44" font-weight="normal" textLength="9" lengthAdjust="spacingAndGlyphs">00</text>
<text style="white-space:pre" x="747" y="370.4" font-family="Liberation Sans" font-size="9.44" font-weight="normal" textLength="9" lengthAdjust="spacingAndGlyphs">00</text>
<text style="white-space:pre" x="768" y="370.4" font-family="Liberation Sans" font-size="9.44" font-weight="normal" textLength="9" lengthAdjust="spacingAndGlyphs">00</text>
<path d="M807.5,334 A3.2,3.2 0 0 1 814.2,334 A3.2,3.2 0 0 1 820.6,334" fill="none" stroke="#000" stroke-width="1.8"/>
<polyline points="820.6,334 823.8,334" fill="none" stroke="#000" stroke-width="1.8" stroke-linejoin="miter" stroke-linecap="butt"/>
<text style="white-space:pre" x="809" y="330.5" font-family="Liberation Mono" font-size="7.58" font-weight="bold" textLength="14" lengthAdjust="spacingAndGlyphs">S1S2</text>
<path d="M807.8,340.5 A3.2,3.2 0 0 0 814.2,340.5 A3.2,3.2 0 0 0 820.6,340.5" fill="none" stroke="#000" stroke-width="1.8"/>
<polyline points="811,343.6 811,381.8" fill="none" stroke="#000" stroke-width="1.75" stroke-linejoin="miter" stroke-linecap="butt"/>
<polyline points="820,343.6 820,381.8" fill="none" stroke="#000" stroke-width="1.75" stroke-linejoin="miter" stroke-linecap="butt"/>
<circle cx="810" cy="381.8" r="2" fill="#000"/>
<circle cx="821" cy="381.8" r="2" fill="#000"/>
<path d="M809,382 L809,395 A6.5,6.5 0 0 0 822,395 L822,382" fill="none" stroke="#000" stroke-width="1.8"/>
<text style="white-space:pre" x="812.2" y="413.15" font-family="Liberation Mono" font-size="11.06" font-weight="bold" textLength="5" lengthAdjust="spacingAndGlyphs">S</text>
<text style="white-space:pre" x="801" y="358.4" font-family="Liberation Sans" font-size="9.44" font-weight="normal" textLength="9" lengthAdjust="spacingAndGlyphs">77</text>
<text style="white-space:pre" x="821" y="358.4" font-family="Liberation Sans" font-size="9.44" font-weight="normal" textLength="9" lengthAdjust="spacingAndGlyphs">77</text>
</svg></body></html>
